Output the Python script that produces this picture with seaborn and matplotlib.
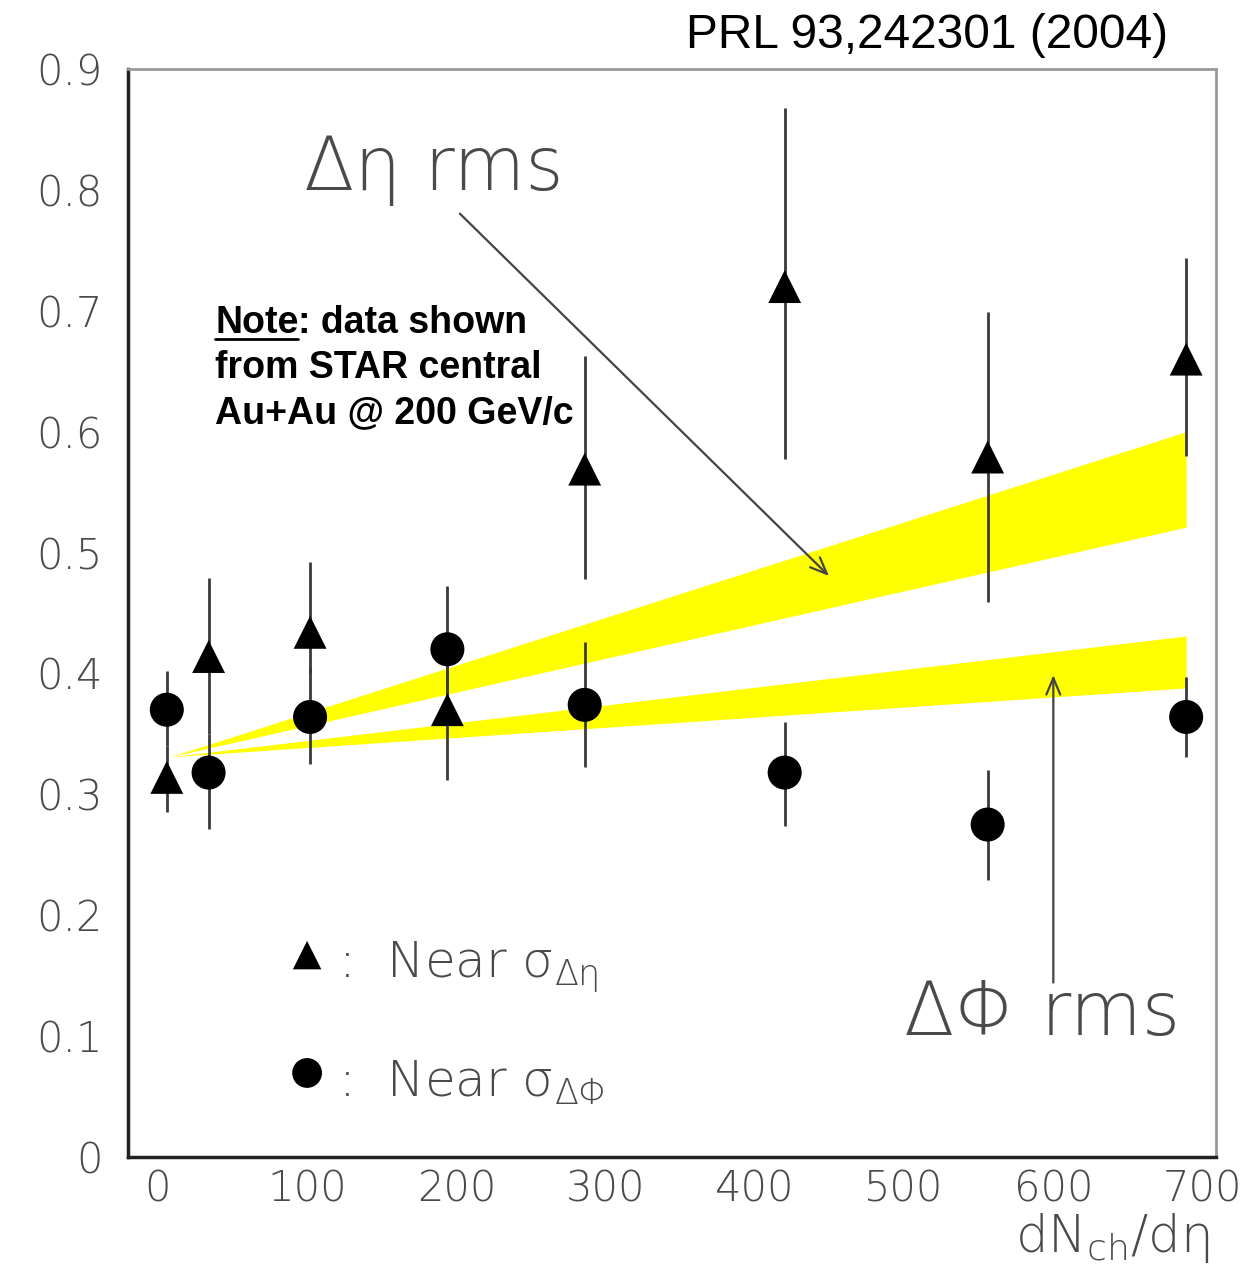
import numpy as np
import pandas as pd
import matplotlib
matplotlib.use("Agg")
import matplotlib.pyplot as plt
import seaborn as sns
from matplotlib.lines import Line2D

# ---------------- data ----------------
x_pts = [6, 34, 102, 194, 286, 420, 556, 689]
eta_y = [0.314, 0.414, 0.434, 0.370, 0.569, 0.720, 0.579, 0.660]
eta_lo = [0.285, 0.350, 0.400, 0.312, 0.478, 0.577, 0.459, 0.580]
eta_hi = [0.340, 0.479, 0.492, 0.410, 0.663, 0.868, 0.699, 0.744]
phi_y = [0.370, 0.318, 0.364, 0.420, 0.374, 0.318, 0.275, 0.364]
phi_lo = [0.340, 0.271, 0.325, 0.378, 0.323, 0.274, 0.229, 0.331]
phi_hi = [0.402, 0.350, 0.405, 0.472, 0.426, 0.360, 0.320, 0.397]

band_x = [8, 689]
eta_band_lo = [0.331, 0.521]
eta_band_hi = [0.331, 0.600]
phi_band_lo = [0.331, 0.388]
phi_band_hi = [0.331, 0.431]

xticks = [0, 100, 200, 300, 400, 500, 600, 700]
yticks = [0, 0.1, 0.2, 0.3, 0.4, 0.5, 0.6, 0.7, 0.8, 0.9]

df_eta = pd.DataFrame({"x": x_pts, "y": eta_y})
df_phi = pd.DataFrame({"x": x_pts, "y": phi_y})

# ---------------- style ----------------
sns.set_style("white")
plt.rcParams["font.family"] = ["DejaVu Sans"]
plt.rcParams["mathtext.fontset"] = "custom"
plt.rcParams["mathtext.rm"] = "DejaVu Sans:ultralight"
plt.rcParams["mathtext.it"] = "DejaVu Sans:ultralight"
plt.rcParams["mathtext.bf"] = "DejaVu Sans:ultralight"
plt.rcParams["mathtext.sf"] = "DejaVu Sans:ultralight"

TXT = "#4a4a4a"
LIGHT = dict(family=["DejaVu Sans"], fontweight="ultralight", color=TXT)

W, H = 1258, 1268
fig = plt.figure(figsize=(W / 100, H / 100), dpi=100)
ax = fig.add_axes([128 / W, 1 - 1157 / H, (1216 - 128) / W, (1157 - 69) / H])

# bands
ax.fill_between(band_x, eta_band_lo, eta_band_hi, color="#ffff00", lw=0, zorder=1)
ax.fill_between(band_x, phi_band_lo, phi_band_hi, color="#ffff00", lw=0, zorder=1)

# error bars
ax.vlines(x_pts, eta_lo, eta_hi, color="#3a3a3a", lw=2, zorder=2)
ax.vlines(x_pts, phi_lo, phi_hi, color="#3a3a3a", lw=2, zorder=2)

# markers
sns.scatterplot(data=df_eta, x="x", y="y", marker="^", s=560, color="black",
                edgecolor="none", ax=ax, zorder=3, legend=False)
sns.scatterplot(data=df_phi, x="x", y="y", marker="o", s=600, color="black",
                edgecolor="none", ax=ax, zorder=3, legend=False)

ax.set_xlim(-20, 709)
ax.set_ylim(0, 0.9)
ax.set_xlabel("")
ax.set_ylabel("")

# ticks
ax.set_xticks(xticks)
ax.set_xticklabels([str(v) for v in xticks])
ax.set_yticks(yticks)
ax.set_yticklabels(["0" if v == 0 else f"{v:.1f}" for v in yticks])
ax.set_xticks(np.arange(0, 701, 20), minor=True)
ax.set_yticks(np.arange(0, 0.901, 0.02), minor=True)
for lab in ax.get_xticklabels() + ax.get_yticklabels():
    lab.set_fontsize(30)
    lab.set_color(TXT)
    lab.set_fontweight("ultralight")
ax.tick_params(axis="both", which="major", direction="in", length=14, width=2,
               color="#222222", top=False, right=False)
ax.tick_params(axis="both", which="minor", direction="in", length=7, width=2,
               color="#222222", top=False, right=False)
ax.tick_params(axis="y", which="major", pad=18)
ax.tick_params(axis="x", which="major", pad=8)

for side in ["left", "bottom"]:
    ax.spines[side].set_color("#222222")
    ax.spines[side].set_linewidth(2.5)
for side in ["top", "right"]:
    ax.spines[side].set_color("#999999")
    ax.spines[side].set_linewidth(2)

# x label
ax.text(0.994, -0.050, r"dN$_{\mathrm{ch}}$/dη", transform=ax.transAxes,
        ha="right", va="top", fontsize=37, **LIGHT)

# annotations: arrows & labels
ax.annotate("", xy=(451, 0.479), xytext=(201, 0.782),
            arrowprops=dict(arrowstyle="->,head_length=1.2,head_width=0.5",
                            color="#444444", lw=1.6))
ax.annotate("", xy=(600, 0.401), xytext=(600, 0.142),
            arrowprops=dict(arrowstyle="->,head_length=1.2,head_width=0.5",
                            color="#444444", lw=1.6))
ax.text(98, 0.80, "Δη rms", fontsize=53, va="baseline", ha="left", **LIGHT)
ax.text(500, 0.101, "ΔΦ rms", fontsize=53, va="baseline", ha="left", **LIGHT)

# legend (manual)
ax.scatter([100], [0.167], marker="^", s=420, color="black", edgecolor="none", zorder=3)
ax.scatter([100], [0.0695], marker="o", s=460, color="black", edgecolor="none", zorder=3)
ax.text(121, 0.148, r":  Near σ$_{\Delta\eta}$", fontsize=36,
        va="baseline", ha="left", **LIGHT)
ax.text(121, 0.050, r":  Near σ$_{\Delta\Phi}$", fontsize=36,
        va="baseline", ha="left", **LIGHT)

# note text
note_font = dict(family=["Liberation Sans", "DejaVu Sans"], fontweight="bold",
                 fontsize=27, color="black")
x0 = 215 / W
t_note = fig.text(x0, 1 - 333 / H, "Note", va="baseline", ha="left", **note_font)
fig.canvas.draw()
bb = t_note.get_window_extent()
x_end = bb.x1 / W
fig.text(x_end, 1 - 333 / H, ": data shown", va="baseline", ha="left", **note_font)
fig.add_artist(Line2D([x0, x_end], [1 - 339 / H, 1 - 339 / H], transform=fig.transFigure,
                      color="black", lw=2))
fig.text(x0, 1 - 378 / H, "from STAR central", va="baseline", ha="left", **note_font)
fig.text(x0, 1 - 423 / H, "Au+Au @ 200 GeV/c", va="baseline", ha="left", **note_font)

# top-right reference
fig.text(1168 / W, 1 - 35 / H, "PRL 93,242301 (2004)", ha="right", va="center",
         family=["Liberation Sans", "DejaVu Sans"], fontsize=34.5, color="black")

fig.savefig("out.png", dpi=100)
